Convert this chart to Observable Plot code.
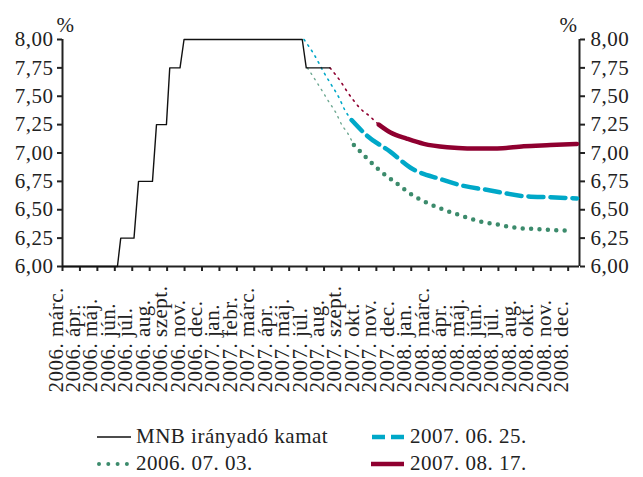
<!DOCTYPE html>
<html>
<head>
<meta charset="utf-8">
<script src="https://cdn.jsdelivr.net/npm/d3@7"></script>
<script src="https://cdn.jsdelivr.net/npm/@observablehq/plot@0.6"></script>
<style>
  body { margin: 0; background: #fff; }
  #wrap { position: relative; width: 643px; height: 477px; font-family: "Liberation Serif", "DejaVu Serif", serif; color: #222; }
  #legend { position: absolute; left: 0; top: 420px; width: 643px; height: 57px; font-size: 21px; letter-spacing: 0.5px; }
  .item { position: absolute; display: flex; align-items: center; white-space: nowrap; }
  .item svg { margin-right: 4px; }
</style>
</head>
<body>
<div id="wrap">
  <div id="chart"></div>
  <div id="legend"></div>
</div>
<script>
// x tick labels (one per tick, index = position)
const labels = [
  "2006. márc.", "2006. ápr.", "2006. máj.", "2006. jún.", "2006. júl.", "2006. aug.", "2006. szept.", "2006. nov.", "2006. dec.",
  "2007. jan.", "2007. febr.", "2007. márc.", "2007. ápr.", "2007. máj.", "2007. júl.", "2007. aug.", "2007. szept.", "2007. okt.", "2007. nov.", "2007. dec.",
  "2008. jan.", "2008. márc.", "2008. ápr.", "2008. máj.", "2008. jún.", "2008. júl.", "2008. aug.", "2008. okt.", "2008. nov.", "2008. dec."
];
const xDomain = [0, 29.65];
const yTicks = [6.00, 6.25, 6.50, 6.75, 7.00, 7.25, 7.50, 7.75, 8.00];

// MNB irányadó kamat [x index, %]
const mnb = [[0,6.00],[3.15,6.00],[3.34,6.25],[4.10,6.25],[4.36,6.75],[5.16,6.75],[5.39,7.25],[5.96,7.25],[6.15,7.75],[6.74,7.75],[6.97,8.00],[13.75,8.00],[13.98,7.75],[15.34,7.75]];

// 2007. 06. 25. (cyan)
const cyanBridge = [[13.85,8.00],[14.42,7.87],[14.99,7.71],[15.42,7.60],[15.85,7.49],[16.19,7.38],[16.58,7.29]];
const cyanCurve = [[16.58,7.29],[17.48,7.15],[18.81,7.01],[19.96,6.87],[21.68,6.77],[23.01,6.71],[24.54,6.67],[26.45,6.62],[27.98,6.61],[29.51,6.60]];

// 2006. 07. 03. (green)
const greenBridge = [[14.05,7.75],[14.80,7.57],[15.28,7.45],[15.66,7.36],[16.05,7.24],[16.33,7.18],[16.71,7.07]];
const greenCurve = [[16.71,7.07],[17.48,6.95],[18.24,6.84],[19.10,6.74],[19.96,6.64],[20.92,6.56],[21.87,6.50],[22.82,6.45],[23.87,6.40],[24.93,6.37],[26.07,6.34],[27.12,6.33],[28.17,6.32],[29.23,6.315]];

// 2007. 08. 17. (red)
const redBridge = [[15.34,7.75],[15.95,7.63],[16.33,7.54],[16.71,7.46],[17.09,7.39],[17.57,7.33],[18.14,7.25]];
const redCurve = [[18.14,7.25],[18.81,7.18],[19.77,7.125],[20.72,7.08],[22.06,7.05],[23.21,7.04],[24.93,7.04],[26.45,7.06],[27.98,7.07],[29.51,7.08]];

const cyan = "#00a8c8", green = "#3c8b6c", red = "#8f0030";
const fmt = d => d.toFixed(2).replace(".", ",");
const tickIdx = d3.range(labels.length);

const chart = Plot.plot({
  width: 643,
  height: 420,
  marginTop: 39,
  marginBottom: 154,
  marginLeft: 62,
  marginRight: 64,
  style: { fontFamily: "Liberation Serif, DejaVu Serif, serif", fontSize: "21px", color: "#222", background: "#fff", letterSpacing: "0.5px" },
  x: { domain: xDomain, axis: null },
  y: { domain: [6, 8], axis: null },
  marks: [
    Plot.axisY({ anchor: "left", ticks: yTicks, tickFormat: fmt, tickSize: 5, tickPadding: 4, strokeWidth: 2, label: null, stroke: "#222" }),
    Plot.axisY({ anchor: "right", ticks: yTicks, tickFormat: fmt, tickSize: 5, tickPadding: 6, strokeWidth: 2, label: null, stroke: "#222" }),
    Plot.axisX({ anchor: "bottom", ticks: tickIdx, tickFormat: () => "", tickSize: 5, strokeWidth: 2, label: null, stroke: "#222" }),
    Plot.ruleX(xDomain, { stroke: "#222", strokeWidth: 2, y1: yTicks[0], y2: yTicks[yTicks.length - 1] }),
    Plot.ruleY([yTicks[0]], { stroke: "#222", strokeWidth: 2 }),
    Plot.text(tickIdx, { x: d => d, text: d => labels[d], frameAnchor: "bottom", rotate: -90, textAnchor: "start", dy: 126, fill: "#222" }),
    Plot.text(["%"], { frameAnchor: "top-left", dx: -6, dy: -22, fill: "#222" }),
    Plot.text(["%"], { frameAnchor: "top-right", dx: -2, dy: -22, fill: "#222" }),
    // bridges (thin dotted)
    Plot.line(greenBridge, { x: d => d[0], y: d => d[1], stroke: green, strokeOpacity: 0.75, strokeWidth: 1.4, strokeDasharray: "1.4,5", curve: "monotone-x" }),
    Plot.line(cyanBridge, { x: d => d[0], y: d => d[1], stroke: cyan, strokeWidth: 1.6, strokeDasharray: "1.6,5", curve: "monotone-x" }),
    Plot.line(redBridge, { x: d => d[0], y: d => d[1], stroke: red, strokeWidth: 1.6, strokeDasharray: "1.6,5", curve: "monotone-x" }),
    // forecasts
    Plot.line(greenCurve, { x: d => d[0], y: d => d[1], stroke: green, strokeWidth: 4.5, strokeDasharray: "0,8.4", strokeLinecap: "round", curve: "monotone-x" }),
    Plot.line(cyanCurve, { x: d => d[0], y: d => d[1], stroke: cyan, strokeWidth: 4.5, strokeDasharray: "15,7", curve: "monotone-x" }),
    Plot.line(redCurve, { x: d => d[0], y: d => d[1], stroke: red, strokeWidth: 4.5, curve: "monotone-x" }),
    // MNB
    Plot.line(mnb, { x: d => d[0], y: d => d[1], stroke: "#111", strokeWidth: 1.4 })
  ]
});
document.getElementById("chart").appendChild(chart);

// legend
const legendItems = [
  { label: "MNB irányadó kamat", left: 97, top: 4, sw: `<line x1="0" y1="6" x2="34" y2="6" stroke="#111" stroke-width="1.4"/>` },
  { label: "2007. 06. 25.", left: 371, top: 4, sw: `<line x1="1" y1="6" x2="33" y2="6" stroke="${cyan}" stroke-width="4.5" stroke-dasharray="13,6"/>` },
  { label: "2006. 07. 03.", left: 97, top: 31, sw: `<line x1="2" y1="6" x2="33" y2="6" stroke="${green}" stroke-width="4" stroke-linecap="round" stroke-dasharray="0,9.3"/>` },
  { label: "2007. 08. 17.", left: 371, top: 31, sw: `<line x1="0" y1="6" x2="33" y2="6" stroke="${red}" stroke-width="4.5"/>` }
];
const leg = document.getElementById("legend");
for (const it of legendItems) {
  const div = document.createElement("div");
  div.className = "item";
  div.style.left = it.left + "px";
  div.style.top = it.top + "px";
  div.innerHTML = `<svg width="35" height="12">${it.sw}</svg><span>${it.label}</span>`;
  leg.appendChild(div);
}
</script>
</body>
</html>
